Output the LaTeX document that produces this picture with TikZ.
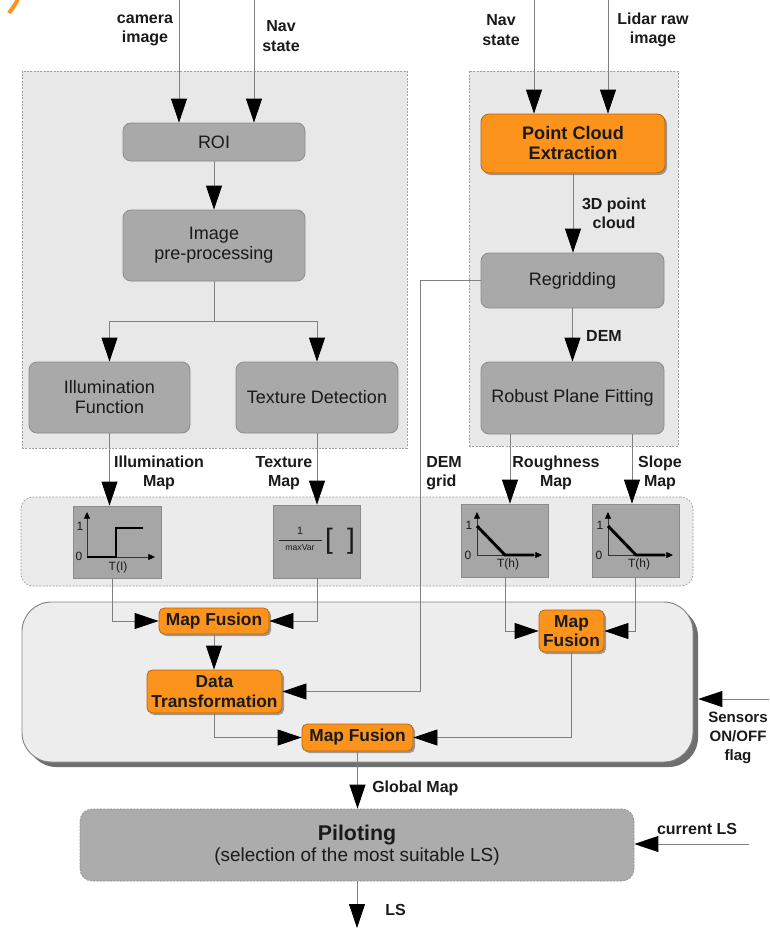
\documentclass[tikz,border=0pt]{standalone}
\usepackage{fontspec}
\setmainfont{Liberation Sans}
\usetikzlibrary{arrows.meta,fit,shadows}

\definecolor{panelfill}{HTML}{E8E8E8}
\definecolor{panelline}{HTML}{A0A0A0}
\definecolor{bandfill}{HTML}{EBEBEB}
\definecolor{bigfill}{HTML}{EDEDED}
\definecolor{bigline}{HTML}{858585}
\definecolor{bigshade}{HTML}{6F6F6F}
\definecolor{boxfill}{HTML}{A9A9A9}
\definecolor{boxline}{HTML}{8C8C8C}
\definecolor{mapfill}{HTML}{A6A6A6}
\definecolor{mapline}{HTML}{8A8A8A}
\definecolor{orfill}{HTML}{FB931C}
\definecolor{orline}{HTML}{B8660F}
\definecolor{pilotfill}{HTML}{ACACAC}
\definecolor{linecol}{HTML}{808080}
\definecolor{txt}{HTML}{1A1A1A}

\begin{document}
\begin{tikzpicture}[x=0.75pt,y=-0.75pt,
  panel/.style={draw=panelline, fill=panelfill, dash pattern=on 1.5pt off 1pt, line width=0.5pt, inner sep=0pt},
  band/.style={panel, fill=bandfill, rounded corners=9pt},
  bigbox/.style={draw=bigline, fill=bigfill, line width=0.7pt, rounded corners=22pt, inner sep=0pt},
  bigshadow/.style={fill=bigshade, rounded corners=22pt, inner sep=0pt},
  graybox/.style={draw=boxline, fill=boxfill, rounded corners=6pt, line width=0.6pt, inner sep=0pt},
  orangebox/.style={draw=orline, fill=orfill, rounded corners=4pt, line width=0.6pt, inner sep=0pt,
    drop shadow={shadow xshift=1.5pt, shadow yshift=-1.5pt, fill=black, opacity=0.35}},
  graytext/.style={align=center, text=txt, inner sep=0pt, font=\fontsize{13.5}{15}\selectfont},
  orangetext/.style={align=center, text=txt, inner sep=0pt, font=\bfseries\fontsize{13}{14.5}\selectfont},
  mapbox/.style={draw=mapline, fill=mapfill, line width=0.6pt, inner sep=0pt},
  pilotbox/.style={draw=boxline, fill=pilotfill, dash pattern=on 1.5pt off 1pt, line width=0.5pt,
    rounded corners=9pt, inner sep=0pt},
  lbl/.style={font=\bfseries\fontsize{12}{14.4}\selectfont, align=center, text=txt, inner sep=0pt},
  small/.style={font=\fontsize{9}{9}\selectfont, text=txt, inner sep=0pt},
  conn/.style={draw=linecol, line width=0.6pt},
  arr/.style={conn, -{Triangle[length=18pt,width=12pt,color=black]}},
  axis/.style={draw=black!80, line width=0.6pt, -{Triangle[length=5pt,width=4.5pt,color=black]}},
  curve/.style={draw=black, line width=2.2pt},
]
\useasboundingbox (0,0) rectangle (769,928);

% orange stroke in the top-left corner
\draw[orfill, line width=3pt] (19,-3) .. controls (15,5) .. (9,13);

% group backgrounds
\node[panel, fit={(22,71)(407,448)}] (camp) {};
\node[panel, fit={(469,71)(678,446)}] (lidp) {};
\node[band, fit={(21,497)(693,586)}] (band) {};
\node[bigshadow, fit={(27,607)(698,767)}] (bigsh) {};
\node[bigbox, fit={(22,602)(693,762)}] (big) {};

% camera chain
\node[graybox, fit={(123,123)(305,161)}] (roi) {};
\node[graytext] (roit) at (roi.center) {ROI};
\node[graybox, fit={(123,210)(305,281)}] (img) {};
\node[graytext] (imgt) at (img.center) {Image\\pre-processing};
\node[graybox, fit={(29,362)(190,433)}] (illum) {};
\node[graytext] (illumt) at (illum.center) {Illumination\\Function};
\node[graybox, fit={(236,362)(398,433)}] (tex) {};
\node[graytext] (text) at (tex.center) {Texture Detection};

% lidar chain
\node[orangebox, rounded corners=6pt, fit={(481,114)(665,173)}] (pce) {};
\node[orangetext, font=\bfseries\fontsize{13.6}{15}\selectfont] (pcet) at (pce.center) {Point Cloud\\Extraction};
\node[graybox, fit={(481,253)(664,308)}] (regrid) {};
\node[graytext] (regridt) at (regrid.center) {Regridding};
\node[graybox, fit={(481,362)(664,434)}] (robust) {};
\node[graytext] (robustt) at (robust.center) {Robust Plane Fitting};

% map transfer functions
\node[mapbox, fit={(73,506)(161,578)}] (imap) {};
\node[mapbox, fit={(273,505)(360,578)}] (tmap) {};
\node[mapbox, fit={(461,504)(548,577)}] (rmap) {};
\node[mapbox, fit={(592,504)(679,577)}] (smap) {};

% step function
\draw[axis] (87,557) -- (87,512);
\draw[axis] (87,557) -- (155,557);
\draw[curve] (87,557) -- (116,557) -- (116,528) -- (143,528);
\node[small] (ione) at (80,526) {1};
\node[small] (izero) at (79,556) {0};
\node[small] (ilab) at (118,567) {T(I)};

% texture normalisation
\node[small, font=\fontsize{8}{8}\selectfont] (fnum) at (300,531) {1};
\draw[draw=black!85, line width=0.6pt] (279,540) -- (322,540);
\node[small, font=\fontsize{6.5}{6.5}\selectfont] (fden) at (300,548) {maxVar};
\node[small, font=\fontsize{21}{21}\selectfont] (lbr) at (329,541) {[};
\node[small, font=\fontsize{21}{21}\selectfont] (rbr) at (351,541) {]};

% ramp functions
\foreach \s in {0,131} {
  \draw[axis] ({477+\s},555) -- ({477+\s},512);
  \draw[axis] ({477+\s},555) -- ({542+\s},555);
  \draw[curve] ({477+\s},526) -- ({505+\s},555) -- ({534+\s},555);
  \node[small] (rone\s) at ({469+\s},525) {1};
  \node[small] (rzero\s) at ({468+\s},555) {0};
  \node[small] (rlab\s) at ({508+\s},564) {T(h)};
}

% fusion stage
\node[orangebox, fit={(159,608)(269,634)}] (mf1) {};
\node[orangetext] (mf1t) at (mf1.center) {Map Fusion};
\node[orangebox, fit={(147,670)(282,713)}] (dt) {};
\node[orangetext] (dtt) at (dt.center) {Data\\Transformation};
\node[orangebox, fit={(539,610)(604,652)}] (mf2) {};
\node[orangetext] (mf2t) at (mf2.center) {Map\\Fusion};
\node[orangebox, fit={(302,724)(413,751)}] (mf3) {};
\node[orangetext] (mf3t) at (mf3.center) {Map Fusion};

% piloting
\node[pilotbox, fit={(80,809)(634,881)}] (pilot) {};
\node[align=center, text=txt, inner sep=0pt] (pilott) at (pilot.center)
  {{\bfseries\fontsize{16}{17}\selectfont Piloting}\\[1pt]{\fontsize{14.2}{16}\selectfont (selection of the most suitable LS)}};

% free ends of connectors
\coordinate (camin) at (179,0);
\coordinate (navin) at (254,0);
\coordinate (navinr) at (534,0);
\coordinate (lidin) at (608,0);
\coordinate (splity) at (0,321);
\coordinate (rx) at (510,0);
\coordinate (sx) at (632,0);
\coordinate (dx) at (420,0);
\coordinate (sensin) at (769,699);
\coordinate (clsin) at (749,844);
\coordinate (lsout) at (357,928);

% connectors
\draw[arr] (camin) -- (camin |- roi.north);
\draw[arr] (navin) -- (navin |- roi.north);
\draw[arr] (navinr) -- (navinr |- pce.north);
\draw[arr] (lidin) -- (lidin |- pce.north);
\draw[arr] (roi.south) -- (img.north);
\draw[conn] (img.south) -- (img.south |- splity);
\draw[conn] (illum.north |- splity) -- (tex.north |- splity);
\draw[arr] (illum.north |- splity) -- (illum.north);
\draw[arr] (tex.north |- splity) -- (tex.north);
\draw[arr] (pce.south) -- (pce.south |- regrid.north);
\draw[arr] (regrid.south) -- (robust.north);
\draw[arr] (illum.south) -- (illum.south |- imap.north);
\draw[arr] (tex.south) -- (tex.south |- tmap.north);
\draw[arr] (rx |- robust.south) -- (rx |- rmap.north);
\draw[arr] (sx |- robust.south) -- (sx |- smap.north);
\draw[arr] ([xshift=2pt]illum.south |- imap.south) |- (mf1.west);
\draw[arr] (tex.south |- tmap.south) |- (mf1.east);
\draw[arr] ([xshift=1pt]rmap.south) |- (mf2.west);
\draw[arr] (smap.south) |- (mf2.east);
\draw[arr] (mf1.south) -- (mf1.south |- dt.north);
\draw[arr] (dt.south) |- (mf3.west);
\draw[arr] (mf2.south) |- (mf3.east);
\draw[arr] (regrid.west) -- (dx |- regrid.west) -- (dx |- dt.east) -- (dt.east);
\draw[arr] (mf3.south) -- (mf3.south |- pilot.north);
\draw[arr] (pilot.south) -- (lsout);
\draw[arr] (sensin) -- (sensin -| bigsh.east);
\draw[arr] (clsin) -- (clsin -| pilot.east);

% connector labels
\node[lbl] (lcam) at (145,30) {camera\\image};
\node[lbl] (lnav) at (281,36) {Nav\\state};
\node[lbl] (lnavr) at (501,30) {Nav\\state};
\node[lbl] (llid) at (653,30) {Lidar raw\\image};
\node[lbl] (lpc) at (614,213) {3D point\\cloud};
\node[lbl] (ldem) at (604,336) {DEM};
\node[lbl] (lim) at (159,473) {Illumination\\Map};
\node[lbl] (ltm) at (284,473) {Texture\\Map};
\node[lbl, anchor=west, align=left] (ldg) at (426,473) {DEM\\grid};
\node[lbl] (lrm) at (556,473) {Roughness\\Map};
\node[lbl] (lsm) at (660,473) {Slope\\Map};
\node[lbl, anchor=west] (lgm) at (372,788) {Global Map};
\node[lbl] (lcls) at (697,829) {current LS};
\node[lbl, anchor=west] (lls) at (385,910) {LS};
\node[lbl, font=\bfseries\fontsize{11.3}{14.4}\selectfont] (lsens) at (738,738) {Sensors\\ON/OFF\\flag};
\end{tikzpicture}
\end{document}
